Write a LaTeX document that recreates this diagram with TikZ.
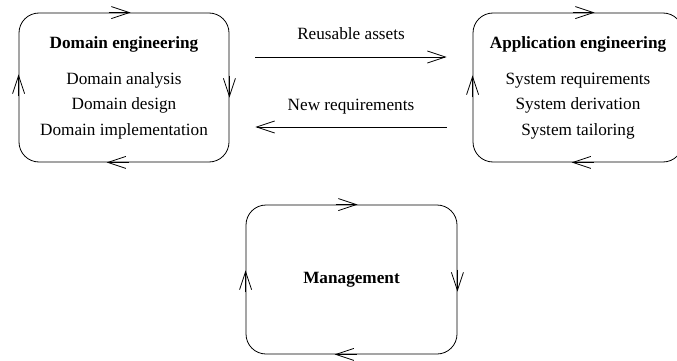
\documentclass[tikz,border=0pt]{standalone}
\usepackage{fontspec}
\setmainfont{Liberation Serif}
\usetikzlibrary{arrows.meta,positioning,calc}
\begin{document}
\begin{tikzpicture}[x=1pt,y=-1pt,line width=0.8pt,
  every node/.style={font=\fontsize{17.2}{25.5}\selectfont,align=center},
  box/.style={draw,rounded corners=20pt,minimum width=210pt,minimum height=149pt,inner sep=0pt},
  barb/.style={-{Straight Barb[length=18pt,width=12pt]}},
  flow/.style={barb},
  flowlabel/.style={midway,anchor=base,yshift=17pt}]
\useasboundingbox (0,0) rectangle (677,361);
\clip (0,0) rectangle (677,361);
\node[box] (dom) at (124,87.5) {\textbf{Domain engineering}\\[10.5pt]Domain analysis\\Domain design\\Domain implementation};
\node[box] (app) at (578,87.5) {\textbf{Application engineering}\\[10.5pt]System requirements\\System derivation\\System tailoring};
\node[box,minimum width=211pt] (mgmt) at (351.5,279.5) {\textbf{Management}};
% cycle arrows on the borders
\draw[barb] ([xshift=90pt]dom.north west) -- ([xshift=112pt]dom.north west);
\draw[barb] ([yshift=-63pt]dom.north east) -- ([yshift=-85pt]dom.north east);
\draw[barb] ([xshift=110pt]dom.south west) -- ([xshift=88pt]dom.south west);
\draw[barb] ([yshift=66pt]dom.south west) -- ([yshift=88pt]dom.south west);
\draw[barb] ([xshift=100pt]app.north west) -- ([xshift=122pt]app.north west);
\draw[barb] ([xshift=121pt]app.south west) -- ([xshift=99pt]app.south west);
\draw[barb] ([yshift=65pt]app.south west) -- ([yshift=87pt]app.south west);
\draw[barb] ([xshift=90pt]mgmt.north west) -- ([xshift=112pt]mgmt.north west);
\draw[barb] ([yshift=-65pt]mgmt.north east) -- ([yshift=-87pt]mgmt.north east);
\draw[barb] ([xshift=111pt]mgmt.south west) -- ([xshift=89pt]mgmt.south west);
\draw[barb] ([yshift=62pt]mgmt.south west) -- ([yshift=84pt]mgmt.south west);
% flows between the two engineering boxes
\draw[flow] ([xshift=26pt,yshift=30.5pt]dom.east) -- ([xshift=-26pt,yshift=30.5pt]app.west) node[flowlabel] {Reusable assets};
\draw[flow] ([xshift=-26pt,yshift=-39.5pt]app.west) -- ([xshift=26pt,yshift=-39.5pt]dom.east) node[flowlabel] {New requirements};
\end{tikzpicture}
\end{document}
